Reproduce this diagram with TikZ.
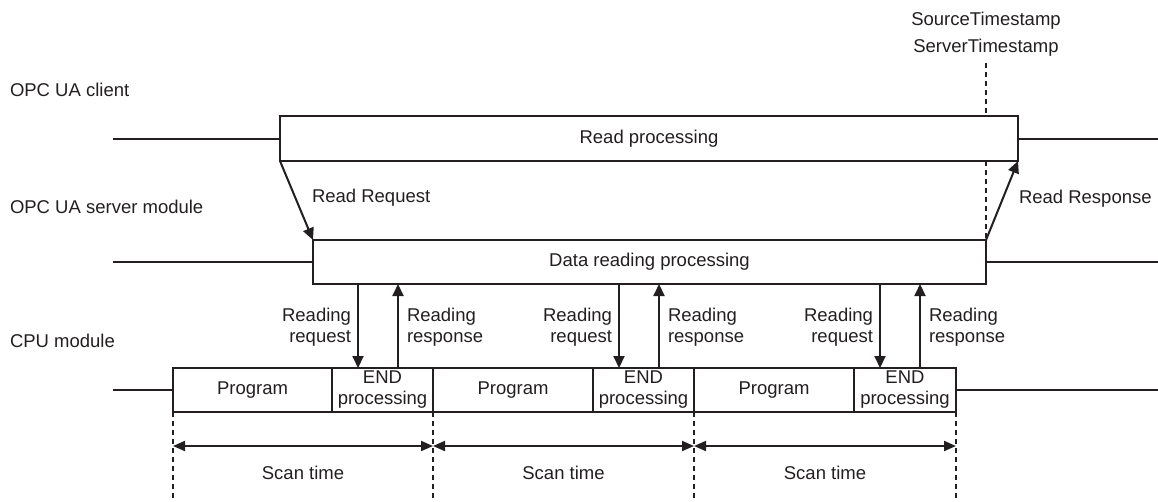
\documentclass[tikz,border=0pt]{standalone}
\usepackage{fontspec}
\setmainfont{Liberation Sans}
\usetikzlibrary{arrows.meta,calc}
\definecolor{ink}{RGB}{35,31,32}
\begin{document}
\begin{tikzpicture}[x=1pt,y=-1pt,
  every node/.style={font=\fontsize{18.5}{21}\selectfont, text=ink, inner sep=0pt, outer sep=0pt},
  lbox/.style={draw=ink, line width=2pt, fill=white, minimum height=44pt},
  ln/.style={draw=ink, line width=2pt},
  arr/.style={draw=ink, line width=2pt, -{Triangle[length=12pt,width=11pt]}},
  darr/.style={draw=ink, line width=2pt, {Triangle[length=12pt,width=10pt]}-{Triangle[length=12pt,width=10pt]}},
  dsh/.style={draw=ink, line width=1.5pt, dash pattern=on 5pt off 4pt},
]
\useasboundingbox (0,0) rectangle (1158,501);

% left labels
\node[anchor=base west] (lc) at (10,96) {OPC UA client};
\node[anchor=base west] (ls) at (10,213) {OPC UA server module};
\node[anchor=base west] (lm) at (10,347) {CPU module};

% timestamps
\node[anchor=base] (ts1) at (986,25) {SourceTimestamp};
\node[anchor=base] (ts2) at (986,52) {ServerTimestamp};

% main boxes
\node[lbox, minimum width=738pt, minimum height=45pt] (read) at (649,138.5) {Read processing};
\node[lbox, minimum width=673pt] (data) at (649.5,262) {Data reading processing};

% CPU boxes
\node[lbox, minimum width=159pt] (p1) at (252.5,390) {Program};
\node[lbox, minimum width=101pt, align=center] (e1) at (382.5,390) {END\\processing};
\node[lbox, minimum width=160pt] (p2) at (513,390) {Program};
\node[lbox, minimum width=101pt, align=center] (e2) at (643.5,390) {END\\processing};
\node[lbox, minimum width=160pt] (p3) at (774,390) {Program};
\node[lbox, minimum width=102pt, align=center] (e3) at (905,390) {END\\processing};

% timelines
\coordinate (c0) at (113,138.5);
\coordinate (c1) at (1158,138.5);
\coordinate (s0) at (113,262);
\coordinate (s1) at (1158,262);
\coordinate (m0) at (113,390);
\coordinate (m1) at (1158,390);
\draw[ln] (c0) -- (read.west);
\draw[ln] (read.east) -- (c1);
\draw[ln] (s0) -- (data.west);
\draw[ln] (data.east) -- (s1);
\draw[ln] (m0) -- (p1.west);
\draw[ln] (e3.east) -- (m1);

% read request / response
\draw[arr] (read.south west) -- (data.north west);
\draw[arr] (data.north east) -- (read.south east);
\node[anchor=base west] (rrq) at (312,202) {Read Request};
\node[anchor=base west] (rrs) at (1019,203) {Read Response};

% timestamp dashed line
\coordinate (tsa) at (986,63);
\draw[dsh] (tsa) -- (tsa |- read.north);
\draw[dsh] (tsa |- read.south) -- (data.north east);

% reading request/response arrows
\foreach \e in {e1,e2,e3}{
  \coordinate (\e q) at ($(\e.north west)+(26,0)$);
  \coordinate (\e r) at ($(\e.north west)+(66,0)$);
  \draw[arr] (\e q |- data.south) -- (\e q);
  \draw[arr] (\e r) -- (\e r |- data.south);
  \node[anchor=east, align=right] at ($(\e q)+(-7,-41)$) {Reading\\request};
  \node[anchor=west, align=left] at ($(\e r)+(9,-41)$) {Reading\\response};
}

% scan time
\coordinate (t0) at (173,501);
\coordinate (t1) at (433,501);
\coordinate (t2) at (694,501);
\coordinate (t3) at (956,501);
\draw[dsh] (p1.south west) -- (t0);
\draw[dsh] (e1.south east) -- (t1);
\draw[dsh] (e2.south east) -- (t2);
\draw[dsh] (e3.south east) -- (t3);
\coordinate (a0) at (173,446);
\coordinate (a1) at (433,446);
\coordinate (a2) at (694,446);
\coordinate (a3) at (956,446);
\draw[darr] (a0) -- (a1);
\draw[darr] (a1) -- (a2);
\draw[darr] (a2) -- (a3);
\node[anchor=base] (st1) at (303,479) {Scan time};
\node[anchor=base] (st2) at (563.5,479) {Scan time};
\node[anchor=base] (st3) at (825,479) {Scan time};
\end{tikzpicture}
\end{document}
